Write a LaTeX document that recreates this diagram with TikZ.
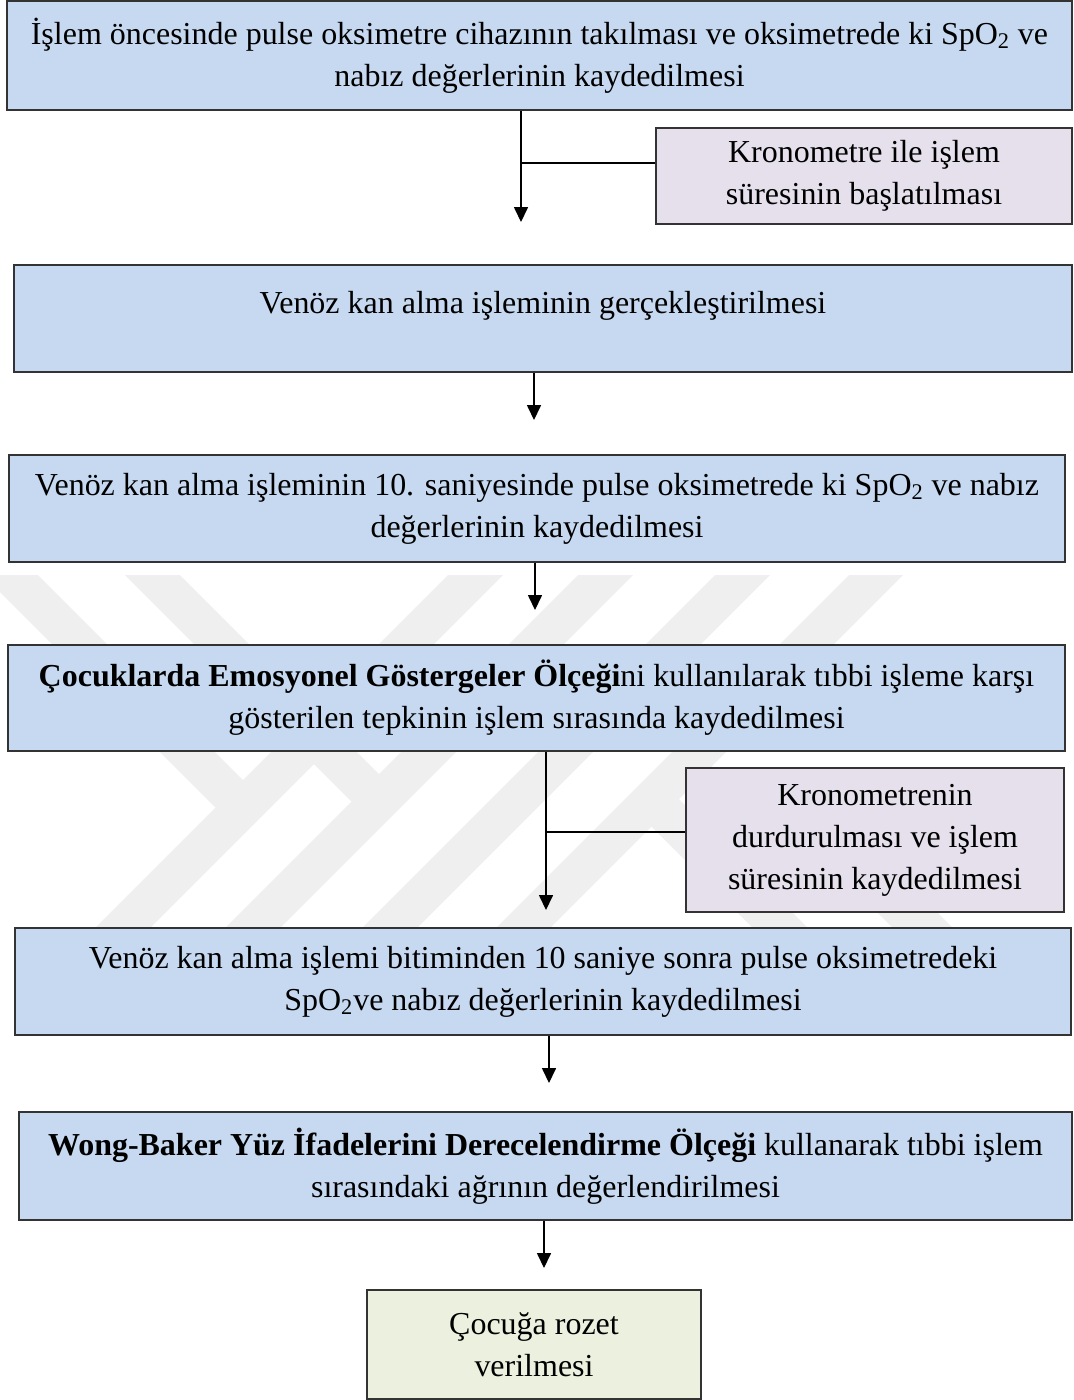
\documentclass[tikz,border=0pt]{standalone}
\usepackage{fontspec}
\setmainfont{Liberation Serif}
\usetikzlibrary{arrows.meta}
\definecolor{boxblue}{RGB}{198,217,241}
\definecolor{boxlilac}{RGB}{229,224,236}
\definecolor{boxgreen}{RGB}{235,241,222}
\definecolor{wmgray}{RGB}{239,239,239}
\newcommand{\spotwo}{SpO\textsubscript{2}}

\begin{document}
\begin{tikzpicture}[x=0.02cm, y=-0.02cm, >={Triangle[length=8.5pt,width=8pt]},
    flowbox/.style={draw=black!80, line width=0.75pt, align=center, inner sep=0pt,
        font=\fontsize{18.2}{23.9}\selectfont},
    bluebox/.style={flowbox, fill=boxblue},
    lilacbox/.style={flowbox, fill=boxlilac},
    greenbox/.style={flowbox, fill=boxgreen},
    arr/.style={->, line width=0.7pt},
    tie/.style={line width=0.7pt}]
        \useasboundingbox (0,0) rectangle (1073,1400);

        % Watermark stripes behind the chart
        \fill[wmgray] (448,575) -- (503,575) -- (150,928) -- (95,928) -- cycle;
        \fill[wmgray] (578,575) -- (633,575) -- (280,928) -- (225,928) -- cycle;
        \fill[wmgray] (715,575) -- (770,575) -- (417,928) -- (362,928) -- cycle;
        \fill[wmgray] (849,575) -- (903,575) -- (550,928) -- (496,928) -- cycle;
        \fill[wmgray] (-17,575) -- (38,575) -- (270.5,807.5) -- (215.5,807.5) -- cycle;
        \fill[wmgray] (125,575) -- (180,575) -- (406.5,801.5) -- (351.5,801.5) -- cycle;
        \fill[wmgray] (624.5,799.5) -- (679,799) -- (808,928) -- (753,928) -- cycle;
        \fill[wmgray] (765,800) -- (825,800) -- (953,928) -- (893,928) -- cycle;

        % Main steps
        \node[bluebox, minimum width=21.3cm, minimum height=2.18cm] (b1) at (539.5,55.5)
            {İşlem öncesinde pulse oksimetre cihazının takılması ve oksimetrede ki \spotwo{} ve\\
             nabız değerlerinin kaydedilmesi};
        \node[bluebox, minimum width=21.16cm, minimum height=2.14cm] (b2) at (543,318.5)
            {Venöz kan alma işleminin gerçekleştirilmesi\\[-6pt]\mbox{}};
        \node[bluebox, minimum width=21.12cm, minimum height=2.14cm] (b3) at (537,508.5)
            {Venöz kan alma işleminin 10. saniyesinde pulse oksimetrede ki \spotwo{} ve nabız\\
             değerlerinin kaydedilmesi};
        \node[bluebox, minimum width=21.14cm, minimum height=2.12cm] (b4) at (536.5,698)
            {\textbf{Çocuklarda Emosyonel Göstergeler Ölçeği}ni kullanılarak tıbbi işleme karşı\\
             gösterilen tepkinin işlem sırasında kaydedilmesi};
        \node[bluebox, minimum width=21.12cm, minimum height=2.14cm] (b5) at (543,981.5)
            {Venöz kan alma işlemi bitiminden 10 saniye sonra pulse oksimetredeki\\
             \spotwo{}ve nabız değerlerinin kaydedilmesi};
        \node[bluebox, minimum width=21.06cm, minimum height=2.16cm] (b6) at (545.5,1166)
            {\textbf{Wong-Baker Yüz İfadelerini Derecelendirme Ölçeği} kullanarak tıbbi işlem\\
             sırasındaki ağrının değerlendirilmesi};
        \node[greenbox, minimum width=6.68cm, minimum height=2.18cm] (g1) at (534,1344.5)
            {Çocuğa rozet\\ verilmesi};

        % Stopwatch side steps
        \node[lilacbox, minimum width=8.32cm, minimum height=1.92cm] (p1) at (864,176)
            {Kronometre ile işlem\\ süresinin başlatılması};
        \node[lilacbox, minimum width=7.56cm, minimum height=2.88cm] (p2) at (875,840)
            {Kronometrenin\\ durdurulması ve işlem\\ süresinin kaydedilmesi};

        % Arrow ends above each next box
        \coordinate (a1) at (521,222);
        \coordinate (a2) at (534,420);
        \coordinate (a3) at (535,610);
        \coordinate (a4) at (546,910);
        \coordinate (a5) at (549,1083);
        \coordinate (a6) at (544,1268);
        \coordinate (j1) at (521,163);
        \coordinate (j2) at (546,832);

        \draw[arr] (b1.south -| a1) -- (a1);
        \draw[tie] (p1.west |- j1) -- (j1);
        \draw[arr] (b2.south -| a2) -- (a2);
        \draw[arr] (b3.south -| a3) -- (a3);
        \draw[arr] (b4.south -| a4) -- (a4);
        \draw[tie] (p2.west |- j2) -- (j2);
        \draw[arr] (b5.south -| a5) -- (a5);
        \draw[arr] (b6.south -| a6) -- (a6);
    \end{tikzpicture}
\end{document}
